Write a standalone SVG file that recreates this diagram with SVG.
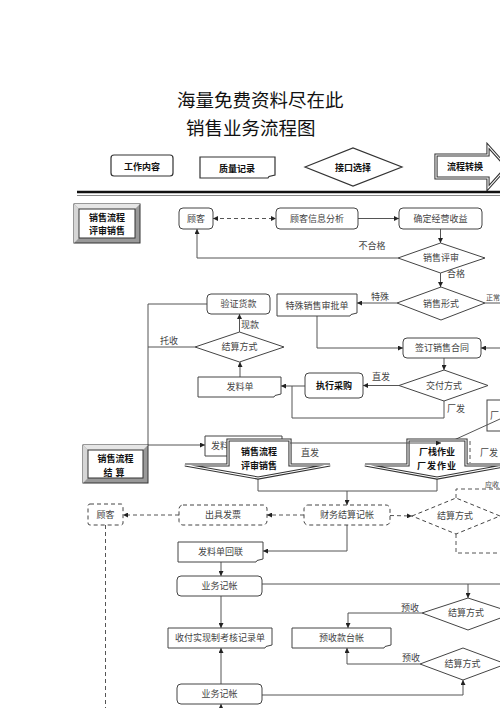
<svg xmlns="http://www.w3.org/2000/svg" width="500" height="708" viewBox="0 0 500 708">
<defs>
<marker id="ah" viewBox="0 0 6 6" refX="6" refY="3" markerWidth="5" markerHeight="5" orient="auto-start-reverse" markerUnits="userSpaceOnUse"><path d="M0,0 L6,3 L0,6 z" fill="#222"/></marker>
</defs>
<style>
text{font-family:"Noto Sans CJK SC","Noto Sans",sans-serif;}
.t{font-size:9px;fill:#444;text-anchor:middle;}
.lb{font-size:9px;fill:#444;text-anchor:middle;}
.b{font-weight:bold;fill:#111;}
.bx{fill:#fff;stroke:#444;stroke-width:1;}
.ln{fill:none;stroke:#555;stroke-width:1;}
.ar{marker-end:url(#ah);}
.d{stroke-dasharray:4 3;}
.bt{fill:#fff;stroke:#333;stroke-width:3.2;}
.bi{fill:none;stroke:#fff;stroke-width:1.1;}
</style>
<rect width="500" height="708" fill="#fff"/>

<g id="title">
<text x="177" y="106.5" font-size="18.5" fill="#111">海量免费资料尽在此</text>
<text x="186" y="134.5" font-size="18.5" fill="#111">销售业务流程图</text>
</g>

<g id="legend">
<g id="lg-work"><rect x="111" y="155" width="62" height="21" rx="3" fill="#fff" stroke="#333" stroke-width="1.2"/><text class="t b" x="142" y="169.5" font-size="10">工作内容</text></g>
<g id="lg-record"><path d="M200,157 H275 V175 L269,176.5 L268,178 H200 Z" fill="#fff" stroke="#333" stroke-width="1.2"/><text class="t b" x="237" y="171.5" font-size="10">质量记录</text></g>
<g id="lg-interface"><polygon points="305,167 353,148 402,167 353,186" fill="#fff" stroke="#333" stroke-width="1.2"/><text class="t b" x="353" y="171">接口选择</text></g>
<g id="lg-transfer"><polygon class="bt" points="436,155 488,155 488,146 507,167 488,188 488,178 436,178"/><polygon class="bi" points="436,155 488,155 488,146 507,167 488,188 488,178 436,178"/><text class="t b" x="465" y="170">流程转换</text></g>
</g>

<g id="separator">
<line x1="77" y1="192" x2="500" y2="192" stroke="#111" stroke-width="2.6"/>
<line x1="77" y1="195.5" x2="500" y2="195.5" stroke="#888" stroke-width="1"/>
</g>

<g id="connectors">
<line class="ln d" x1="213" y1="218.5" x2="276" y2="218.5" marker-start="url(#ah)" marker-end="url(#ah)"/>
<line class="ln ar" x1="358" y1="218.5" x2="399" y2="218.5"/>
<line class="ln ar" x1="440.5" y1="229" x2="440.5" y2="243"/>
<polyline class="ln ar" points="398,258 197,258 197,229"/>
<line class="ln ar" x1="440.5" y1="273" x2="440.5" y2="287"/>
<line class="ln ar" x1="397" y1="303" x2="357" y2="303"/>
<line class="ln" x1="485" y1="303" x2="500" y2="303"/>
<polyline class="ln ar" points="317,316 317,348 403,348"/>
<line class="ln ar" x1="500" y1="348" x2="481" y2="348"/>
<line class="ln ar" x1="444" y1="358" x2="444" y2="370"/>
<line class="ln ar" x1="399" y1="385.5" x2="363" y2="385.5"/>
<line class="ln ar" x1="305" y1="386" x2="281" y2="386"/>
<polyline class="ln" points="444,401 444,418 292,418 292,386"/>
<line class="ln ar" x1="240" y1="377" x2="240" y2="362"/>
<line class="ln ar" x1="239.5" y1="332" x2="239.5" y2="314"/>
<line class="ln" x1="195" y1="347" x2="148" y2="347"/>
<polyline class="ln ar" points="207,304 148,304 148,445 205,445"/>
<polyline class="ln" points="258,478 258,491 437,491 437,478"/>
<line class="ln ar" x1="347" y1="491" x2="347" y2="505"/>
<line class="ln d ar" x1="179" y1="515" x2="123" y2="515"/>
<line class="ln d ar" x1="304" y1="515" x2="267" y2="515"/>
<line class="ln d ar" x1="390" y1="515.5" x2="412" y2="516"/>
<polyline class="ln d" points="456,498 456,489 500,489"/>
<polyline class="ln d" points="456,534 456,553 500,553"/>
<line class="ln d" x1="105.5" y1="525" x2="105.5" y2="708"/>
<polyline class="ln ar" points="347,525 347,551 263,551"/>
<line class="ln ar" x1="221" y1="562" x2="221" y2="576"/>
<line class="ln" x1="262" y1="584" x2="500" y2="584"/>
<line class="ln ar" x1="468" y1="584" x2="468" y2="598"/>
<polyline class="ln ar" points="422,613 348,613 348,628"/>
<line class="ln ar" x1="221" y1="596" x2="221" y2="628"/>
<polyline class="ln ar" points="420,664 347,664 347,648"/>
<line class="ln ar" x1="221" y1="684" x2="221" y2="648"/>
<polyline class="ln ar" points="262,695 463,695 463,680"/>
<line class="ln ar" x1="221" y1="708" x2="221" y2="704"/>
</g>

<g id="labels">
<text class="lb" x="372" y="249">不合格</text>
<text class="lb" x="456" y="276.5">合格</text>
<text class="lb" x="380" y="300">特殊</text>
<text x="486" y="299.5" font-size="7" fill="#444">正常</text>
<text class="lb" x="381" y="379.5">直发</text>
<text class="lb" x="456" y="411.5">厂发</text>
<text class="lb" x="250" y="327.5">现款</text>
<text class="lb" x="169" y="343.5">托收</text>
<text class="lb" x="310" y="455.5">直发</text>
<text x="485" y="486.5" font-size="7" fill="#444">应收</text>
<text class="lb" x="410" y="610.5">预收</text>
<text class="lb" x="411" y="660.5">预收</text>
</g>

<g id="sec-review">
<rect x="74" y="204" width="66" height="39" fill="#999" stroke="#333"/>
<polygon points="74,204 140,204 135,209 79,209" fill="#e6e6e6"/>
<polygon points="74,204 79,209 79,238 74,243" fill="#d6d6d6"/>
<rect x="79" y="209" width="56" height="29" fill="#fff" stroke="#333"/>
<text class="t b" x="107" y="221">销售流程</text>
<text class="t b" x="107" y="234">评审销售</text>
</g>

<g id="n-customer"><rect class="bx" x="179" y="208" width="34" height="21" rx="4"/><text class="t" x="196" y="221.8">顾客</text></g>
<g id="n-info"><rect class="bx" x="276" y="208" width="82" height="21" rx="4"/><text class="t" x="317" y="221.8">顾客信息分析</text></g>
<g id="n-profit"><rect class="bx" x="399" y="208" width="83" height="21" rx="4"/><text class="t" x="440.5" y="221.8">确定经营收益</text></g>
<g id="n-review"><polygon class="bx" points="398,258 440.5,243 485,258 440.5,273"/><text class="t" x="441" y="261.3">销售评审</text></g>
<g id="n-form"><polygon class="bx" points="397,303 441,287 485,303 441,320"/><text class="t" x="441" y="306.5">销售形式</text></g>
<g id="n-special"><path class="bx" d="M277,294 H357 V313 L351,314.5 L350,316 H277 Z"/><text class="t" x="317" y="308.5">特殊销售审批单</text></g>
<g id="n-verify"><rect class="bx" x="207" y="294" width="63" height="20" rx="4"/><text class="t" x="238.5" y="307.3">验证货款</text></g>
<g id="n-settle1"><polygon class="bx" points="195,347 239.5,332 284,347 239.5,362"/><text class="t" x="239.5" y="350.3">结算方式</text></g>
<g id="n-contract"><rect class="bx" x="403" y="338" width="78" height="20" rx="4"/><text class="t" x="442" y="351.3">签订销售合同</text></g>
<g id="n-delivery"><polygon class="bx" points="399,385.5 444,370 488,385.5 444,401"/><text class="t" x="444" y="388.8">交付方式</text></g>
<g id="n-purchase"><rect class="bx" x="305" y="373" width="58" height="25" rx="4"/><text class="t b" x="334" y="389">执行采购</text></g>
<g id="n-issue1"><path class="bx" d="M198,377 H281 V394 L275,395.5 L274,397 H198 Z"/><text class="t" x="240" y="390.3">发料单</text></g>
<g id="n-factory-part"><rect class="bx" x="487" y="400" width="20" height="31"/><text x="490" y="419" font-size="9" fill="#444">厂</text></g>
<g id="n-issue2"><path class="bx" d="M205,436 H282 V453 L276,454.5 L275,456 H205 Z"/><text x="211" y="449.3" font-size="9" fill="#444">发料单</text></g>

<g id="n-factory-bits">
<line class="ln" x1="454" y1="440" x2="500" y2="419"/>
<line class="ln d" x1="470" y1="441" x2="470" y2="463" stroke-width="0.7"/>
<text x="480" y="456" font-size="9" fill="#444">厂发</text>
</g>

<g id="sec-settle">
<rect x="83" y="445" width="65" height="38" fill="#999" stroke="#333"/>
<polygon points="83,445 148,445 143,450 88,450" fill="#e6e6e6"/>
<polygon points="83,445 88,450 88,478 83,483" fill="#d6d6d6"/>
<rect x="88" y="450" width="55" height="28" fill="#fff" stroke="#333"/>
<text class="t b" x="115.5" y="462">销售流程</text>
<text class="t b" x="115.5" y="475.5" letter-spacing="3">结算</text>
</g>

<g id="xfer-review">
<polygon class="bt" points="228,440 290,440 290,465 330,465 258,478 185,465 228,465"/>
<polygon class="bi" points="228,440 290,440 290,465 330,465 258,478 185,465 228,465"/>
<text class="t b" x="259" y="455">销售流程</text>
<text class="t b" x="259" y="468.5">评审销售</text>
</g>
<g id="xfer-factory">
<polygon class="bt" points="408,440 466,440 466,465 509,465 437,478 365,465 408,465"/>
<polygon class="bi" points="408,440 466,440 466,465 509,465 437,478 365,465 408,465"/>
<text class="t b" x="437" y="455">厂栈作业</text>
<text class="t b" x="437" y="468.5" letter-spacing="1">厂发作业</text>
</g>
<g id="connector-direct"><line class="ln ar" x1="290" y1="443" x2="441" y2="443"/></g>

<g id="n-cust2"><rect class="bx d" x="88" y="504" width="35" height="21" rx="2"/><text class="t" x="105.5" y="517.8">顾客</text></g>
<g id="n-invoice"><rect class="bx d" x="179" y="505" width="88" height="20" rx="4"/><text class="t" x="223" y="518.3">出具发票</text></g>
<g id="n-finance"><rect class="bx d" x="304" y="505" width="86" height="20" rx="4"/><text class="t" x="347" y="518.3">财务结算记帐</text></g>
<g id="n-settle2"><polygon class="bx d" points="412,516 456,498 500,516 456,534"/><text class="t" x="455" y="519.3">结算方式</text></g>
<g id="n-stub"><path class="bx" d="M178,542 H263 V559 L257,560.5 L256,562 H178 Z"/><text class="t" x="220.5" y="555.3">发料单回联</text></g>
<g id="n-acct1"><rect class="bx" x="177" y="576" width="85" height="20" rx="4"/><text class="t" x="219.5" y="589.3">业务记帐</text></g>
<g id="n-settle3"><polygon class="bx" points="422,613 468,598 514,613 468,630"/><text class="t" x="466" y="616.3">结算方式</text></g>
<g id="n-cash"><path class="bx" d="M168,628 H272 V645 L266,646.5 L265,648 H168 Z"/><text class="t" x="220" y="641.3">收付实现制考核记录单</text></g>
<g id="n-prepay"><path class="bx" d="M292,628 H391 V645 L385,646.5 L384,648 H292 Z"/><text class="t" x="341.5" y="641.3">预收款台帐</text></g>
<g id="n-settle4"><polygon class="bx" points="420,664 463,648 506,664 463,680"/><text class="t" x="462.5" y="667.3">结算方式</text></g>
<g id="n-acct2"><rect class="bx" x="177" y="684" width="85" height="20" rx="4"/><text class="t" x="219.5" y="697.3">业务记帐</text></g>
</svg>
